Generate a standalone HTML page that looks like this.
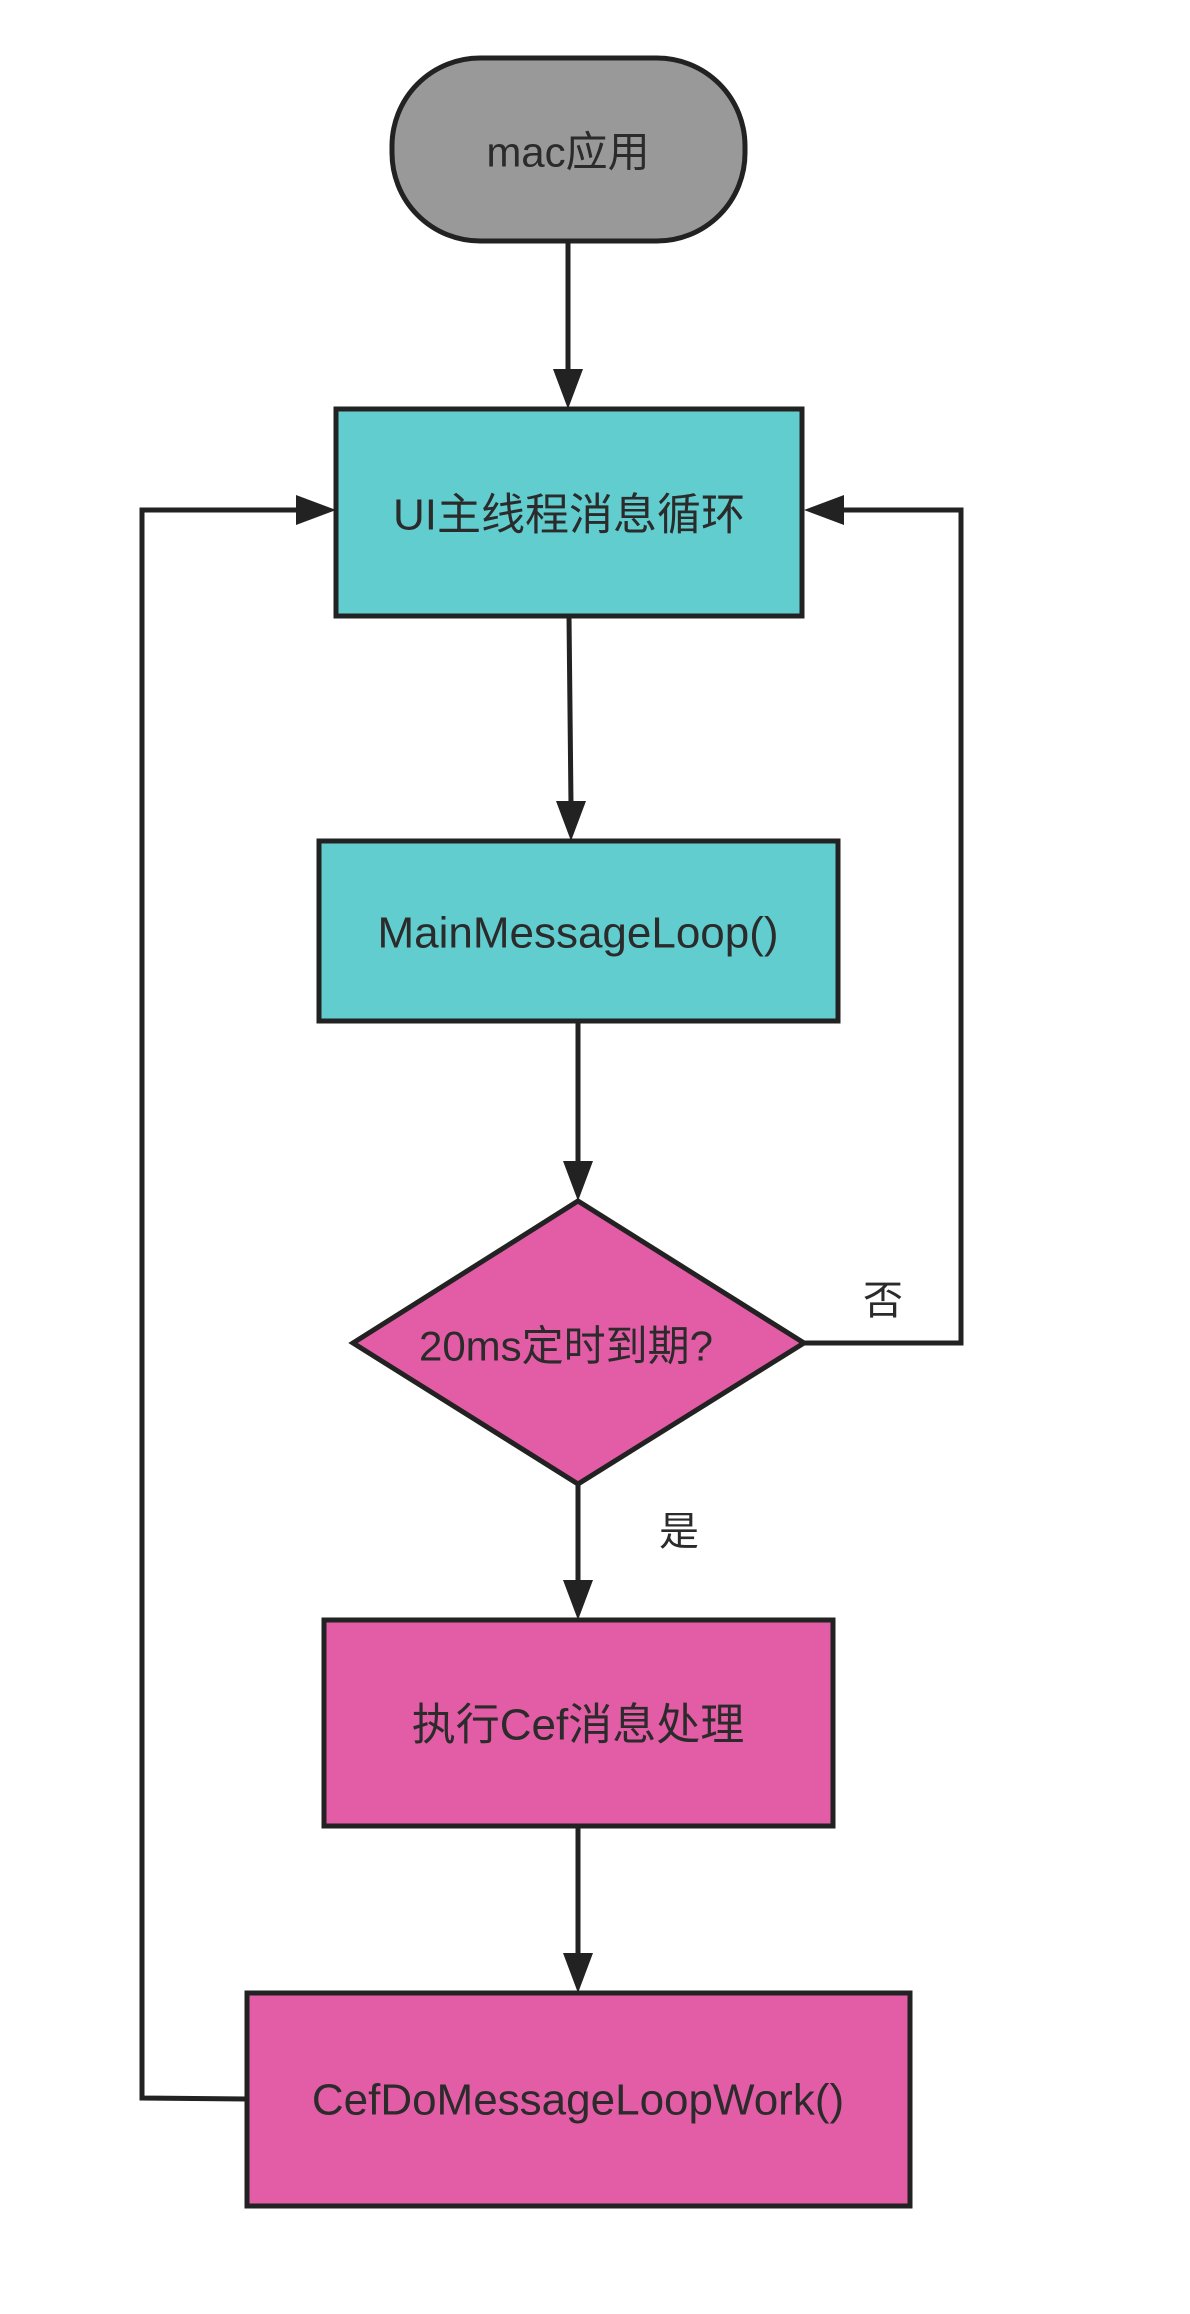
<!DOCTYPE html>
<html><head><meta charset="utf-8"><style>
html,body{margin:0;padding:0;background:#fff}
svg{display:block}
text{font-family:"Liberation Sans","Noto Sans CJK SC",sans-serif;fill:#2b2b2b;text-anchor:middle;dominant-baseline:central}
</style></head><body>
<svg width="1190" height="2314" viewBox="0 0 1190 2314" xmlns="http://www.w3.org/2000/svg">
<g stroke="#222" stroke-width="5" fill="none">
<line x1="568" y1="241" x2="568" y2="372"/>
<line x1="569" y1="616" x2="571" y2="805"/>
<line x1="578" y1="1021" x2="578" y2="1165"/>
<line x1="578" y1="1484" x2="578" y2="1584"/>
<line x1="578" y1="1826" x2="578" y2="1957"/>
<polyline points="247,2099 142,2098 142,510 300,510"/>
<polyline points="804,1343 961,1343 961,510 840,510"/>
</g>
<g fill="#222">
<polygon points="568,409 553,369 583,369"/>
<polygon points="571,841 556,801 586,801"/>
<polygon points="578,1201 563,1161 593,1161"/>
<polygon points="578,1620 563,1580 593,1580"/>
<polygon points="578,1993 563,1953 593,1953"/>
<polygon points="336,510 296,495 296,525"/>
<polygon points="804,510 844,495 844,525"/>
</g>
<rect x="392" y="58" width="353" height="183" rx="88" ry="88" fill="#999" stroke="#222" stroke-width="5"/>
<text x="568" y="152" font-size="42">mac应用</text>
<rect x="336" y="409" width="466" height="207" fill="#62cdcf" stroke="#222" stroke-width="5"/>
<text x="569" y="515" font-size="44">UI主线程消息循环</text>
<rect x="319" y="841" width="519" height="180" fill="#62cdcf" stroke="#222" stroke-width="5"/>
<text x="578" y="933" font-size="44">MainMessageLoop()</text>
<polygon points="578,1201 804,1343 578,1484 353,1343" fill="#e35ca6" stroke="#222" stroke-width="5"/>
<text x="566" y="1346" font-size="42">20ms定时到期?</text>
<text x="883" y="1301" font-size="40">否</text>
<text x="679" y="1532" font-size="40">是</text>
<rect x="324" y="1620" width="509" height="206" fill="#e35ca6" stroke="#222" stroke-width="5"/>
<text x="578" y="1725" font-size="44">执行Cef消息处理</text>
<rect x="247" y="1993" width="663" height="213" fill="#e35ca6" stroke="#222" stroke-width="5"/>
<text x="578" y="2100" font-size="44">CefDoMessageLoopWork()</text>
</svg>
</body></html>
